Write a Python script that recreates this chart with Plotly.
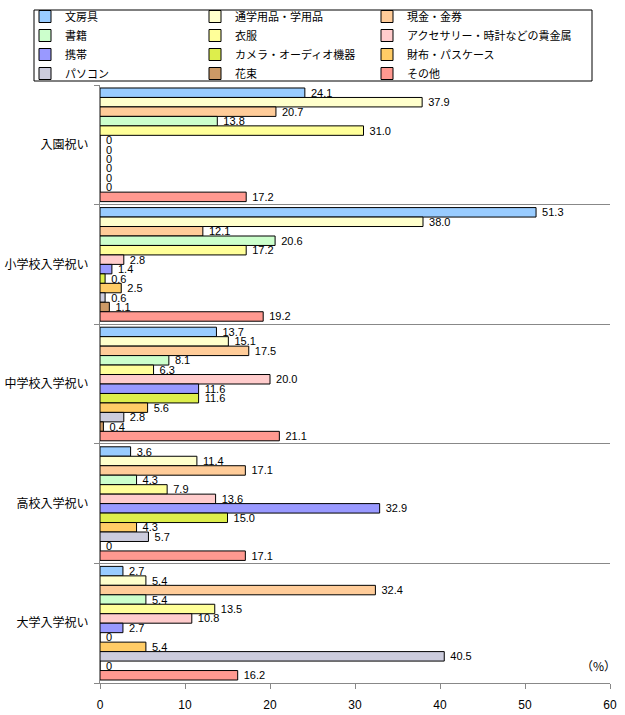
import plotly.graph_objects as go

categories = ["入園祝い", "小学校入学祝い", "中学校入学祝い", "高校入学祝い", "大学入学祝い"]
series_names = ["文房具", "通学用品・学用品", "現金・金券", "書籍", "衣服",
                "アクセサリー・時計などの貴金属", "携帯", "カメラ・オーディオ機器",
                "財布・パスケース", "パソコン", "花束", "その他"]
colors = ["#99CCFF", "#FFFFCC", "#FFCC99", "#CCFFCC", "#FFFF99", "#FFCCCC",
          "#9999FF", "#DDEE4C", "#FFCC66", "#CCCCDD", "#CC9966", "#FF9990"]

文房具 = [24.1, 51.3, 13.7, 3.6, 2.7]
通学用品 = [37.9, 38.0, 15.1, 11.4, 5.4]
現金 = [20.7, 12.1, 17.5, 17.1, 32.4]
書籍 = [13.8, 20.6, 8.1, 4.3, 5.4]
衣服 = [31.0, 17.2, 6.3, 7.9, 13.5]
アクセサリー = [0, 2.8, 20.0, 13.6, 10.8]
携帯 = [0, 1.4, 11.6, 32.9, 2.7]
カメラ = [0, 0.6, 11.6, 15.0, 0]
財布 = [0, 2.5, 5.6, 4.3, 5.4]
パソコン = [0, 0.6, 2.8, 5.7, 40.5]
花束 = [0, 1.1, 0.4, 0, 0]
その他 = [17.2, 19.2, 21.1, 17.1, 16.2]

series_values = [文房具, 通学用品, 現金, 書籍, 衣服, アクセサリー, 携帯, カメラ, 財布, パソコン, 花束, その他]
x_ticks = [0, 10, 20, 30, 40, 50, 60]

ypos = list(range(len(categories)))
font_jp = "Noto Sans CJK JP"

W, H = 625, 715
ML, MR, MT, MB = 100, 15, 85, 32
plot_w = W - ML - MR
plot_h = H - MT - MB


def px_x(p):
    return (p - ML) / plot_w


def px_y(p):
    return 1 + (MT - p) / plot_h


legend_ids = ["legend", "legend2", "legend3"]
legend_left_px = [25, 195, 367]

fig = go.Figure()
for i, (name, vals, col) in enumerate(zip(series_names, series_values, colors)):
    fig.add_trace(go.Bar(
        y=ypos, x=vals, name=name, orientation="h",
        legend=legend_ids[i % 3],
        marker=dict(color=col, line=dict(color="black", width=1)),
        text=[("%.1f" % v) if v else "0" for v in vals],
        texttemplate=" %{text}",
        textposition="outside", cliponaxis=False, constraintext="none",
        textfont=dict(size=11, color="black", family="Liberation Sans"),
    ))

legend_common = dict(
    orientation="v", xref="paper", yref="paper",
    y=px_y(2), xanchor="left", yanchor="top",
    borderwidth=0, bgcolor="rgba(0,0,0,0)",
    font=dict(size=11, family=font_jp), traceorder="normal",
    itemwidth=30, tracegroupgap=0,
)

fig.update_layout(
    width=W, height=H,
    margin=dict(l=ML, r=MR, t=MT, b=MB, autoexpand=False),
    barmode="group", bargap=0.05, bargroupgap=0,
    plot_bgcolor="white", paper_bgcolor="white",
    font=dict(family=font_jp, size=12, color="black"),
    showlegend=True,
    legend=dict(legend_common, x=px_x(legend_left_px[0])),
    legend2=dict(legend_common, x=px_x(legend_left_px[1])),
    legend3=dict(legend_common, x=px_x(legend_left_px[2])),
    shapes=[dict(type="rect", xref="paper", yref="paper",
                 x0=px_x(34), x1=px_x(592), y0=px_y(10), y1=px_y(81),
                 line=dict(color="black", width=1), fillcolor="rgba(0,0,0,0)",
                 layer="below")],
)
fig.update_xaxes(
    range=[0, 60], tickvals=x_ticks, showgrid=False, zeroline=False,
    showline=True, linecolor="#888888", linewidth=1,
    ticks="outside", ticklen=5, tickcolor="#888888",
    ticklabelstandoff=6,
    tickfont=dict(size=12, family="Liberation Sans"),
)
fig.update_yaxes(
    range=[len(categories) - 0.5, -0.5], tickvals=ypos, ticktext=categories,
    showgrid=False, zeroline=False, ticks="",
    showline=True, linecolor="#888888", linewidth=1,
    ticklabelstandoff=8,
    minor=dict(tickvals=[i - 0.5 for i in range(len(categories) + 1)],
               showgrid=True, gridcolor="#888888", gridwidth=1,
               ticks="outside", ticklen=5, tickcolor="#888888"),
    tickfont=dict(size=12, family=font_jp),
)
fig.add_annotation(text="（%）", xref="paper", yref="paper", x=1.0, y=0.0,
                   xanchor="right", yanchor="bottom", yshift=7, xshift=8,
                   showarrow=False, font=dict(size=12, family=font_jp))

fig.write_html("out.html")
